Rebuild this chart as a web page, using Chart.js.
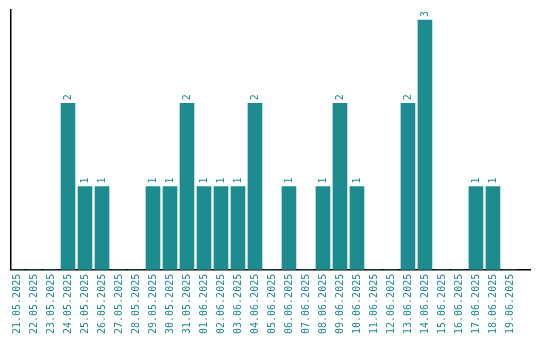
<!DOCTYPE html>
<html><head><meta charset="utf-8">
<script src="https://cdn.jsdelivr.net/npm/chart.js@4/dist/chart.umd.min.js"></script>
<style>html,body{margin:0;padding:0;background:#fff}#wrap{width:540px;height:340px}</style>
</head><body><div id="wrap"><canvas id="c"></canvas></div>
<script>
const categories = ["21.05.2025","22.05.2025","23.05.2025","24.05.2025","25.05.2025","26.05.2025","27.05.2025","28.05.2025","29.05.2025","30.05.2025","31.05.2025","01.06.2025","02.06.2025","03.06.2025","04.06.2025","05.06.2025","06.06.2025","07.06.2025","08.06.2025","09.06.2025","10.06.2025","11.06.2025","12.06.2025","13.06.2025","14.06.2025","15.06.2025","16.06.2025","17.06.2025","18.06.2025","19.06.2025"];
const counts = [0,0,0,2,1,1,0,0,1,1,2,1,1,1,2,0,1,0,1,2,1,0,0,2,3,0,0,1,1,0];
const barColor = "#1e8b91";
const textColor = "#1e8b91";
const fontFam = "'DejaVu Sans Mono', monospace";

const valueLabels = {
  id: 'valueLabels',
  afterDatasetsDraw(chart) {
    const ctx = chart.ctx;
    const meta = chart.getDatasetMeta(0);
    ctx.save();
    ctx.fillStyle = textColor;
    ctx.font = "10px " + fontFam;
    ctx.textAlign = 'left';
    ctx.textBaseline = 'middle';
    meta.data.forEach((el, i) => {
      const v = counts[i];
      if (!v) return;
      ctx.save();
      ctx.translate(el.x, el.y - 3);
      ctx.rotate(-Math.PI / 2);
      ctx.fillText(String(v), 0, 0);
      ctx.restore();
    });
    ctx.restore();
  }
};

new Chart(document.getElementById('c'), {
  type: 'bar',
  data: { datasets: [{ data: counts.map((v, i) => ({ x: i, y: v })), backgroundColor: barColor, barThickness: 14 }] },
  options: {
    responsive: true, maintainAspectRatio: false, animation: false,
    layout: { padding: { left: 11, right: 10, top: 10, bottom: 2 } },
    plugins: { legend: { display: false }, tooltip: { enabled: false } },
    scales: {
      x: {
        type: 'linear', min: -0.353, max: 30.18, offset: false,
        grid: { display: false, drawTicks: false },
        border: { color: '#000', width: 1.5 },
        afterFit: (s) => { s.paddingLeft = 0; s.paddingRight = 0; },
        ticks: {
          color: textColor, font: { family: fontFam, size: 10 }, minRotation: 90, maxRotation: 90,
          autoSkip: false, padding: 4, stepSize: 1, includeBounds: false,
          callback: (v) => categories[v] ?? ''
        }
      },
      y: {
        min: 0, max: 3.12,
        grid: { display: false, drawTicks: false },
        border: { color: '#000', width: 1.5 },
        afterFit: (s) => { s.width = 0; },
        ticks: { display: false }
      }
    }
  },
  plugins: [valueLabels]
});
</script></body></html>
